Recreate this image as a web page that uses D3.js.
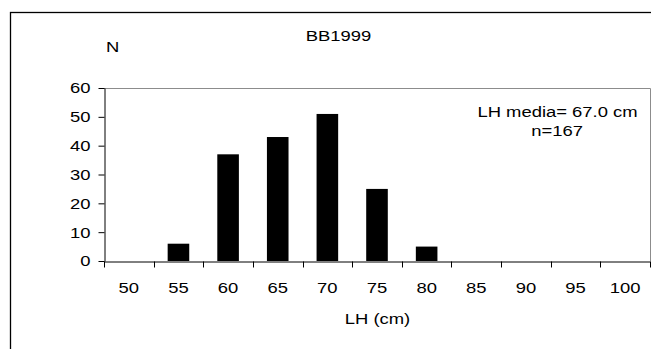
<!DOCTYPE html>
<html>
<head>
<meta charset="utf-8">
<script src="https://cdn.jsdelivr.net/npm/d3@7"></script>
<style>
  html, body { margin: 0; padding: 0; background: #fff; }
  svg { display: block; }
  text { font-family: "Liberation Sans", Arial, sans-serif; fill: #000; }
</style>
</head>
<body>
<svg id="chart" width="651" height="349"></svg>
<script>
// ---- data ----
const categories = ["50", "55", "60", "65", "70", "75", "80", "85", "90", "95", "100"];
const counts = [0, 6, 37, 43, 51, 25, 5, 0, 0, 0, 0];
const yTicks = [0, 10, 20, 30, 40, 50, 60];
const title = "BB1999";
const yTitle = "N";
const xTitle = "LH (cm)";
const noteLines = ["LH media= 67.0 cm", "n=167"];

// ---- layout ----
const W = 651, H = 349;
const plot = { left: 104, right: 650, top: 88, bottom: 261 };
const fs = 15.5;      // font size
const sx = 1.19;      // horizontal stretch of the original text

const svg = d3.select("#chart");

// outer frame (extends past the picture on right & bottom)
svg.append("rect")
  .attr("x", 10.5).attr("y", 12.5)
  .attr("width", 800).attr("height", 500)
  .attr("fill", "none").attr("stroke", "#000").attr("stroke-width", 1.3);

const x = d3.scaleBand().domain(categories).range([plot.left, plot.right])
  .paddingInner(0.565).paddingOuter(0.2825);
const xCat = d3.scaleBand().domain(categories).range([plot.left, plot.right]).padding(0);
const xIdx = d3.scaleLinear().domain([0, categories.length]).range([plot.left, plot.right]);
const y = d3.scaleLinear().domain([0, 60]).range([plot.bottom, plot.top]);

// plot-area border (top and right, grey)
svg.append("path")
  .attr("d", `M${plot.left},${plot.top + 0.5}H${plot.right + 0.5}V${plot.bottom}`)
  .attr("fill", "none").attr("stroke", "#8c8c8c").attr("stroke-width", 1);

// bars
svg.append("g").selectAll("rect")
  .data(categories.map((c, i) => ({ c, v: counts[i] })))
  .join("rect")
  .attr("x", d => x(d.c))
  .attr("width", x.bandwidth())
  .attr("y", d => y(d.v))
  .attr("height", d => y(0) - y(d.v))
  .attr("fill", "#000");

// y axis
const gy = svg.append("g")
  .attr("transform", `translate(${plot.left + 0.5},0)`)
  .call(d3.axisLeft(y).tickValues(yTicks).tickSize(6).tickSizeOuter(0).tickFormat(d3.format("d")));
gy.select(".domain").attr("stroke", "#000");
gy.selectAll(".tick line").attr("stroke", "#000");
gy.selectAll(".tick text")
  .attr("x", 0)
  .attr("transform", `translate(-14,0) scale(${sx},1)`)
  .style("font-size", fs + "px")
  .style("font-family", '"Liberation Sans", Arial, sans-serif');

// x axis ticks at band boundaries
const gxt = svg.append("g")
  .attr("transform", `translate(0,${plot.bottom + 0.5})`)
  .call(d3.axisBottom(xIdx).tickValues(d3.range(categories.length + 1))
    .tickSize(6).tickSizeOuter(0).tickFormat(""));
gxt.select(".domain").attr("stroke", "#000");
gxt.selectAll(".tick line").attr("stroke", "#000");
gxt.selectAll(".tick").attr("transform", d => `translate(${Math.round(xIdx(d)) + 0.5},0)`);

// x axis labels (centred in each category)
const gx = svg.append("g")
  .attr("transform", `translate(0,${plot.bottom})`)
  .call(d3.axisBottom(xCat).tickSize(0).tickSizeOuter(0));
gx.select(".domain").remove();
gx.selectAll(".tick text")
  .attr("y", 0).attr("dy", null)
  .attr("transform", `translate(0,31.5) scale(${sx},1)`)
  .style("font-size", fs + "px")
  .style("font-family", '"Liberation Sans", Arial, sans-serif');

// helper for stretched text
function label(txt, cx, baseline) {
  svg.append("text")
    .attr("transform", `translate(${cx},${baseline}) scale(${sx},1)`)
    .attr("text-anchor", "middle")
    .style("font-size", fs + "px")
    .text(txt);
}

label(title, 338.5, 40.5);
label(yTitle, 112.7, 51.7);
label(xTitle, 377.5, 324);
label(noteLines[0], 557.5, 116.7);
label(noteLines[1], 557, 136);
</script>
</body>
</html>
